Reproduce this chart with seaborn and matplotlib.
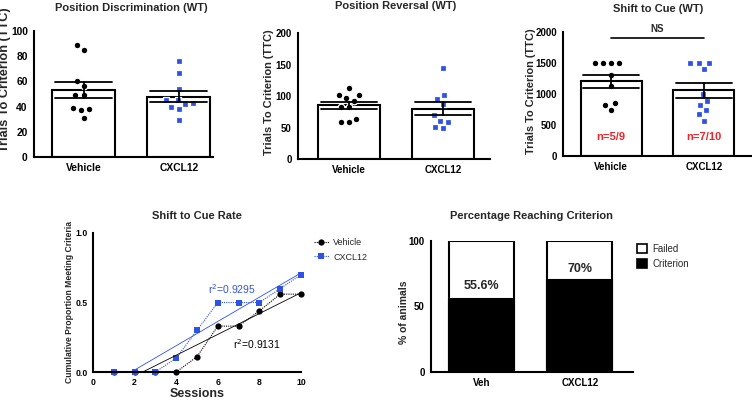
import numpy as np
import pandas as pd
import matplotlib
matplotlib.use("Agg")
import matplotlib.pyplot as plt
import seaborn as sns
from matplotlib.patches import Patch
from matplotlib.lines import Line2D

# ---- data ----
groups = ["Vehicle", "CXCL12"]

pd_vehicle = [89, 85, 60, 56, 49, 49, 39, 38, 37, 31]
pd_cxcl12 = [76, 67, 54, 45, 45, 43, 42, 40, 38, 29]

pr_vehicle = [112, 102, 102, 97, 92, 82, 82, 64, 59, 58]
pr_cxcl12 = [144, 102, 96, 87, 70, 61, 59, 51, 49]

sc_vehicle = [1500, 1500, 1500, 1500, 1300, 1130, 850, 820, 740]
sc_cxcl12 = [1500, 1500, 1500, 1400, 1000, 890, 830, 740, 670, 570]
sc_counts = ["n=5/9", "n=7/10"]

sessions = [1, 2, 3, 4, 5, 6, 7, 8, 9, 10]
rate_vehicle = [0, 0, 0, 0, 0.11, 0.33, 0.33, 0.44, 0.56, 0.56]
rate_cxcl12 = [0, 0, 0, 0.1, 0.3, 0.5, 0.5, 0.5, 0.6, 0.7]
r2_vehicle = "r$^2$=0.9131"
r2_cxcl12 = "r$^2$=0.9295"

pct_groups = ["Veh", "CXCL12"]
pct_criterion = [55.6, 70]
pct_total = [100, 100]
pct_labels = ["55.6%", "70%"]

BLUE = "#2f52e6"
RED = "#e8262b"
W, H = 752, 401


def PixAxes(fig, left, top, right, bottom):
    return fig.add_axes([left / W, 1 - bottom / H, (right - left) / W, (bottom - top) / H])


def StyleAxes(ax, tick_size=7, pad=1.5):
    sns.despine(ax=ax)
    for s in ["left", "bottom"]:
        ax.spines[s].set_linewidth(1.5)
        ax.spines[s].set_color("black")
    ax.tick_params(axis="both", direction="out", length=3, width=1.3, colors="black",
                   labelsize=tick_size, pad=pad)
    for lab in ax.get_xticklabels() + ax.get_yticklabels():
        lab.set_fontweight("bold")
    ax.set_xlabel("")
    ax.set_ylabel("")


def BarScatter(ax, vehicle, cxcl12, ymax, step, xlim, tick_size=7):
    df = pd.DataFrame({"group": ["Vehicle"] * len(vehicle) + ["CXCL12"] * len(cxcl12),
                       "value": vehicle + cxcl12})
    sns.barplot(data=df, x="group", y="value", order=groups, errorbar="se", capsize=0.6,
                width=0.66, color="white", edgecolor="black", linewidth=1.5,
                err_kws={"color": "black", "linewidth": 1.3}, ax=ax)
    # white rim keeps the dots small while the swarm keeps some air between them
    sns.swarmplot(data=df[df.group == "Vehicle"], x="group", y="value", order=groups,
                  color="black", marker="o", size=4.8, edgecolor="white", linewidth=0.9,
                  ax=ax, zorder=3)
    sns.swarmplot(data=df[df.group == "CXCL12"], x="group", y="value", order=groups,
                  color=BLUE, marker="s", size=4.8, edgecolor="white", linewidth=0.9,
                  ax=ax, zorder=3)
    for line in ax.lines:
        line.set_zorder(4)
    ax.set_ylim(0, ymax)
    ax.set_yticks(np.arange(0, ymax + 1, step))
    ax.set_xlim(*xlim)
    StyleAxes(ax, tick_size)


sns.set_theme(style="white")
plt.rcParams["font.family"] = ["Liberation Sans", "DejaVu Sans"]

fig = plt.figure(figsize=(W / 100, H / 100), dpi=100)

# ---- top row ----
ax1 = PixAxes(fig, 34, 31, 213, 157)
BarScatter(ax1, pd_vehicle, pd_cxcl12, 100, 20, (-0.52, 1.36), tick_size=7.4)
ax2 = PixAxes(fig, 298, 33, 490, 159)
BarScatter(ax2, pr_vehicle, pr_cxcl12, 200, 50, (-0.54, 1.5))
ax3 = PixAxes(fig, 563, 32, 752, 156)
BarScatter(ax3, sc_vehicle, sc_cxcl12, 2000, 500, (-0.52, 1.52))

ax3.plot([0, 1], [1910, 1910], color="black", linewidth=1.2, clip_on=False)
ax3.text(0.5, 1960, "NS", ha="center", va="bottom", fontsize=7, fontweight="bold", clip_on=False)
for i, t in enumerate(sc_counts):
    ax3.text(i, 300, t, ha="center", va="center", color=RED, fontsize=8, fontweight="bold")

fig.text(131 / W, 1 - 8 / H, "Position Discrimination (WT)", ha="center", va="center",
         fontsize=8, fontweight="bold")
fig.text(396 / W, 1 - 6 / H, "Position Reversal (WT)", ha="center", va="center",
         fontsize=8, fontweight="bold")
fig.text(658 / W, 1 - 9 / H, "Shift to Cue (WT)", ha="center", va="center",
         fontsize=8, fontweight="bold")

# label x is the right edge of the rotated text
for ax, x, y, fs in [(ax1, 11, 80, 9.2), (ax2, 274, 92, 7.9), (ax3, 536, 91, 7.9)]:
    ax.set_ylabel("Trials To Criterion (TTC)", fontsize=fs, fontweight="bold")
    ax.yaxis.set_label_coords(x / W, 1 - y / H, transform=fig.transFigure)

# ---- shift to cue rate ----
ax4 = PixAxes(fig, 93, 233, 301, 372)
sns.lineplot(x=sessions, y=rate_vehicle, color="black", marker="o", markersize=4.5,
             linestyle=(0, (1, 1)), linewidth=0.8, markeredgewidth=0, clip_on=False, ax=ax4)
sns.lineplot(x=sessions, y=rate_cxcl12, color=BLUE, marker="s", markersize=4.5,
             linestyle=(0, (1, 1)), linewidth=0.8, markeredgewidth=0, clip_on=False, ax=ax4)
sns.regplot(x=sessions, y=rate_vehicle, scatter=False, ci=None, truncate=True,
            line_kws={"color": "black", "linewidth": 0.6}, ax=ax4)
sns.regplot(x=sessions, y=rate_cxcl12, scatter=False, ci=None, truncate=True,
            line_kws={"color": BLUE, "linewidth": 0.6}, ax=ax4)
ax4.set_xlim(0, 10)
ax4.set_ylim(0, 1)
ax4.set_xticks([0, 2, 4, 6, 8, 10])
ax4.set_yticks([0, 0.5, 1.0])
ax4.set_yticklabels(["0.0", "0.5", "1.0"])
StyleAxes(ax4, tick_size=6.2, pad=1)
ax4.text(6.7, 0.6, r2_cxcl12, color=BLUE, fontsize=7.5, ha="center", va="center")
ax4.text(7.9, 0.2, r2_vehicle, color="black", fontsize=7.5, ha="center", va="center")
ax4.set_xlabel("Sessions", fontsize=9, fontweight="bold", labelpad=1)
ax4.set_ylabel("Cumulative Proportion Meeting Criteria", fontsize=6.2, fontweight="bold")
ax4.yaxis.set_label_coords(74 / W, 1 - 302 / H, transform=fig.transFigure)
fig.text(197 / W, 1 - 216 / H, "Shift to Cue Rate", ha="center", va="center",
         fontsize=8, fontweight="bold")
handles = [Line2D([], [], color="black", marker="o", markersize=4.5, linestyle=(0, (1, 1)),
                  linewidth=0.8, markeredgewidth=0),
           Line2D([], [], color=BLUE, marker="s", markersize=4.5, linestyle=(0, (1, 1)),
                  linewidth=0.8, markeredgewidth=0)]
fig.legend(handles, groups, loc="upper left", bbox_to_anchor=(306 / W, 1 - 230 / H),
           frameon=False, fontsize=6.5, handlelength=1.6, handletextpad=0.5, labelspacing=0.6)

# ---- percentage reaching criterion ----
ax5 = PixAxes(fig, 431, 241, 633, 372)
sns.barplot(x=pct_groups, y=pct_total, color="white", edgecolor="black", linewidth=1.5,
            width=0.66, ax=ax5)
sns.barplot(x=pct_groups, y=pct_criterion, color="black", edgecolor="black", linewidth=1.5,
            width=0.66, ax=ax5)
ax5.set_ylim(0, 100)
ax5.set_yticks([0, 50, 100])
ax5.set_xlim(-0.51, 1.54)
StyleAxes(ax5)
ax5.text(0, 66, pct_labels[0], ha="center", va="center", fontsize=9, fontweight="bold")
ax5.text(1, 79, pct_labels[1], ha="center", va="center", fontsize=9, fontweight="bold")
ax5.set_ylabel("% of animals", fontsize=7.5, fontweight="bold")
ax5.yaxis.set_label_coords(409 / W, 1 - 312 / H, transform=fig.transFigure)
fig.text(531 / W, 1 - 216 / H, "Percentage Reaching Criterion", ha="center", va="center",
         fontsize=8, fontweight="bold")
patches = [Patch(facecolor="white", edgecolor="black", linewidth=1.2),
           Patch(facecolor="black", edgecolor="black", linewidth=1.2)]
fig.legend(patches, ["Failed", "Criterion"], loc="upper left",
           bbox_to_anchor=(628 / W, 1 - 235 / H), frameon=False, fontsize=7,
           handlelength=1.1, handleheight=1.1, handletextpad=0.5, labelspacing=0.5)

fig.savefig("out.png", dpi=100)
